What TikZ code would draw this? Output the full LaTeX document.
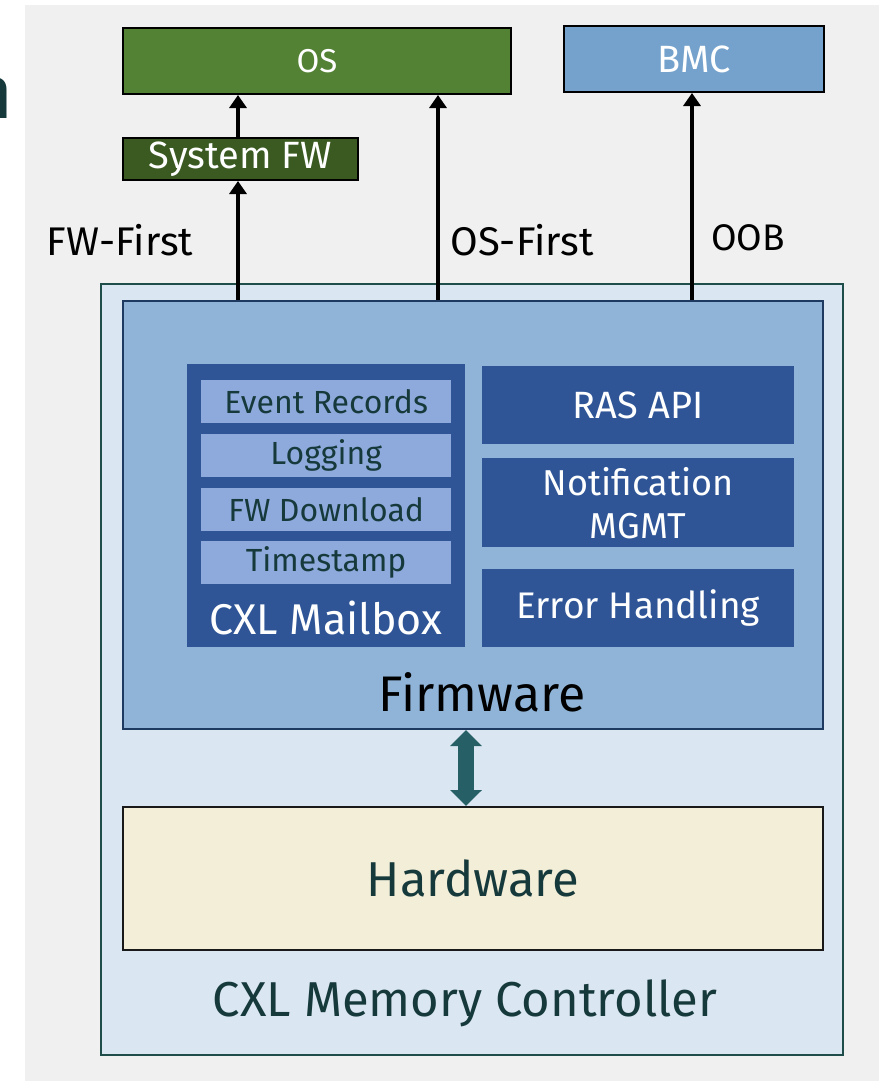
\documentclass[tikz,border=0pt]{standalone}
\usepackage{fontspec}
\setmainfont{Fira Sans}
\usetikzlibrary{arrows.meta}
\definecolor{pagebg}{HTML}{F0F0F0}
\definecolor{osgreen}{HTML}{548235}
\definecolor{fwgreen}{HTML}{3A5A22}
\definecolor{bmcblue}{HTML}{74A2CC}
\definecolor{ctrlfill}{HTML}{DAE6F2}
\definecolor{ctrlline}{HTML}{1E4D4A}
\definecolor{fwfill}{HTML}{8FB4D7}
\definecolor{fwline}{HTML}{1F3A60}
\definecolor{navy}{HTML}{2F5597}
\definecolor{itemfill}{HTML}{8EAADC}
\definecolor{ink}{HTML}{163A3C}
\definecolor{hwfill}{HTML}{F3EED8}
\definecolor{linkteal}{HTML}{265F66}
\newcommand{\fs}[1]{\fontsize{#1}{#1}\selectfont}
\begin{document}
\begin{tikzpicture}[x=1pt,y=-1pt,
  box/.style={draw=black, line width=2pt, inner sep=0pt, anchor=north west},
  tile/.style={inner sep=0pt, anchor=north west, fill=navy, text=white},
  item/.style={inner sep=0pt, anchor=north west, fill=itemfill, text=ink,
    minimum width=250pt, minimum height=43pt, font=\fs{32}},
  uparrow/.style={line width=4pt, -{Triangle[width=17pt,length=13pt]}},
  lbl/.style={inner sep=0pt, text=black, font=\fs{40}}]
\useasboundingbox (0,0) rectangle (879,1082);
\fill[white] (0,0) rectangle (879,1082);
\fill[pagebg] (25,5) rectangle (879,1081);
% title fragment at the left edge
\node[anchor=base east, inner sep=0pt, text=ink, font=\fs{74}\bfseries] (frag) at (11,118) {n};

% upper targets
\node[box, fill=osgreen, minimum width=388pt, minimum height=66pt, text=white, font=\fs{33}] (os) at (122,27) {OS};
\node[box, fill=bmcblue, minimum width=260pt, minimum height=66pt, text=white, font=\fs{38}] (bmc) at (563,25) {BMC};
\node[box, fill=fwgreen, minimum width=235pt, minimum height=42pt, text=white, font=\fs{38}] (sysfw) at (122,137) {System FW};

% controller
\node[draw=ctrlline, line width=2pt, fill=ctrlfill, inner sep=0pt, anchor=north west,
  minimum width=742pt, minimum height=771pt] (ctrl) at (100,283) {};
\node[draw=fwline, line width=2pt, fill=fwfill, inner sep=0pt, anchor=north west,
  minimum width=700pt, minimum height=428pt] (fw) at (122,300) {};
\node[font=\fs{50}, text=black, inner sep=0pt] (fwlabel) at (482,692) {Firmware};

% mailbox
\node[tile, minimum width=278pt, minimum height=283pt] (mbox) at (187,364) {};
\node[item] (ev) at (201,380) {Event Records};
\node[item] (logn) at (201,434) {Logging};
\node[item] (dl) at (201,488) {FW Download};
\node[item] (ts) at (201,541) {Timestamp};
\node[text=white, font=\fs{43}, inner sep=0pt] (mblabel) at (326,618) {CXL Mailbox};

% firmware services
\node[tile, minimum width=312pt, minimum height=78pt, font=\fs{38}] (ras) at (482,366) {RAS API};
\node[tile, minimum width=312pt, minimum height=89pt, font=\fs{36}, align=center] (notif) at (482,458) {Notification\\[7pt]MGMT};
\node[tile, minimum width=312pt, minimum height=78pt, font=\fs{37}] (err) at (482,569) {Error Handling};

% hardware
\node[box, draw=black!90, fill=hwfill, minimum width=700pt, minimum height=143pt, text=ink, font=\fs{49}] (hw) at (122,806) {Hardware};
\node[text=ink, font=\fs{49}, inner sep=0pt] (ctrllabel) at (465,1003) {CXL Memory Controller};

% firmware <-> hardware link
\coordinate (lx) at (466,0);
\draw[linkteal, line width=16pt, {Triangle[width=31pt,length=16pt]}-{Triangle[width=31pt,length=16pt]}]
  (lx |- fw.south) -- (lx |- hw.north);

% reporting paths
\coordinate (fwx) at (238,0);
\coordinate (osx) at (438,0);
\coordinate (oobx) at (692,0);
\draw[uparrow] (fwx |- fw.north) -- (fwx |- sysfw.south);
\draw[uparrow] (fwx |- sysfw.north) -- (fwx |- os.south);
\draw[uparrow] (osx |- fw.north) -- (osx |- os.south);
\draw[uparrow] (oobx |- fw.north) -- (oobx |- bmc.south);

\node[lbl] (l1) at (120,240) {FW-First};
\node[lbl] (l2) at (522,240) {OS-First};
\node[lbl, font=\fs{37}] (l3) at (748,238) {OOB};
\end{tikzpicture}
\end{document}
